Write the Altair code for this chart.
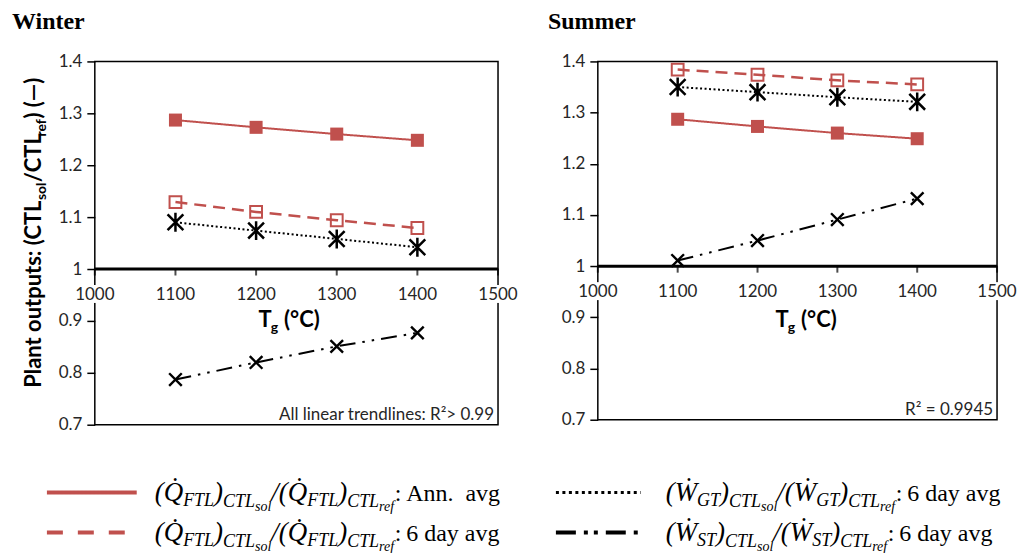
import altair as alt
import pandas as pd

# ---------------------------------------------------------------- data
temps = [1100, 1200, 1300, 1400]

winter_ftl_ann = [1.287, 1.273, 1.260, 1.248]
winter_ftl_6d = [1.129, 1.110, 1.094, 1.079]
winter_gt_6d = [1.090, 1.074, 1.058, 1.042]
winter_st_6d = [0.787, 0.820, 0.851, 0.877]

summer_ftl_ann = [1.287, 1.273, 1.260, 1.249]
summer_ftl_6d = [1.384, 1.374, 1.363, 1.355]
summer_gt_6d = [1.350, 1.340, 1.330, 1.321]
summer_st_6d = [1.011, 1.050, 1.091, 1.132]

x_ticks = [1000, 1100, 1200, 1300, 1400, 1500]
y_ticks = [0.7, 0.8, 0.9, 1.0, 1.1, 1.2, 1.3, 1.4]
x_cross = 1.0  # the T axis is drawn where the ratio equals one

RED = "#C0504D"
ASTERISK = "M-1,-1L1,1M-1,1L1,-1M0,-1.2L0,1.2"
CROSS = "M-1,-1L1,1M-1,1L1,-1"

# line / marker style of each series
STYLES = {
    "ftl_ann": dict(color=RED, dash=[1, 0], lw=2, shape="square", filled=True, size=170, sw=0),
    "ftl_6d": dict(color=RED, dash=[12, 7], lw=2.5, shape="square", filled=False, size=140, sw=2),
    "gt_6d": dict(color="black", dash=[2, 2.5], lw=2, shape=ASTERISK, filled=False, size=250, sw=2.5),
    "st_6d": dict(color="black", dash=[16, 7, 2.5, 7, 2.5, 7], lw=2, shape=CROSS, filled=False, size=160, sw=2.4),
}

# ---------------------------------------------------------------- rich text helpers
TIMES_R = {" ": .25, "\u00a0": .25, "(": .333, ")": .333, ".": .25, "/": .278, ":": .278,
           "6": .5, "A": .722, "a": .444, "d": .5, "g": .5, "n": .5, "v": .5, "y": .5}
TIMES_I = {"(": .333, ")": .333, "/": .278, "C": .667, "F": .611, "G": .722, "L": .556,
           "Q": .722, "S": .5, "T": .556, "W": .833, "e": .444, "f": .278, "l": .278,
           "o": .5, "r": .389, "s": .389, "\u0307": 0}
LATO_B = {"P": .60, "l": .26, "a": .53, "n": .58, "t": .37, " ": .2, "\u00a0": .2, "o": .58,
          "u": .58, "p": .58, "s": .44, ":": .28, "(": .33, ")": .33, "C": .66, "T": .56,
          "L": .48, "/": .38, "r": .40, "e": .54, "f": .34, "\u2014": .85, "g": .52, "\u00b0": .4}
TABLES = {"mi": TIMES_I, "rm": TIMES_R, "sb": LATO_B}
FONTS = {
    "mi": dict(font="Liberation Serif", fontStyle="italic", fontWeight="normal"),
    "rm": dict(font="Liberation Serif", fontStyle="normal", fontWeight="normal"),
    "sb": dict(font="Lato", fontStyle="normal", fontWeight="bold"),
}


def text_width(text, size, style):
    table = TABLES[style]
    return sum(table.get(ch, 0.5) for ch in text) * size


def run_rows(segments, x0, y0, rotated=False):
    """Lay out (text, size, shift, style[, extra gap]) pieces one after another."""
    rows, pos = [], 0.0
    for seg in segments:
        text, size, shift, style = seg[:4]
        pos += seg[4] if len(seg) > 4 else 0
        if rotated:
            rows.append(dict(px=x0 + shift, py=y0 - pos, txt=text, fs=size, st=style, rot=True))
        else:
            rows.append(dict(px=x0 + pos, py=y0 + shift, txt=text, fs=size, st=style, rot=False))
        pos += text_width(text, size, style)
    return rows


def text_layers(rows):
    df = pd.DataFrame(rows)
    layers = []
    for (style, rot), sub in df.groupby(["st", "rot"]):
        layers.append(
            alt.Chart(sub).mark_text(align="left", baseline="alphabetic",
                                     angle=270 if rot else 0, color="black", **FONTS[style])
            .encode(x=alt.X("px:Q", scale=None), y=alt.Y("py:Q", scale=None),
                    text="txt:N", size=alt.Size("fs:Q", scale=None))
        )
    return layers


def legend_segments(sym, sub, tail):
    M, S, SS, R = 27, 18, 14, 24
    dot = sym + "\u0307"
    return [
        ("(", M, 0, "mi"), (dot, M, 0, "mi"), (sub, S, 5, "mi"), (")", M, 0, "mi"),
        ("CTL", S, 6, "mi"), ("sol", SS, 10, "mi"),
        ("/(", M, 0, "mi"), (dot, M, 0, "mi"), (sub, S, 5, "mi"), (")", M, 0, "mi"),
        ("CTL", S, 6, "mi"), ("ref", SS, 10, "mi"),
        (":", R, 0, "rm"), (tail, R, 0, "rm", 5),
    ]


one_row = pd.DataFrame({"k": [0]})


def px_text(text, x, y, size, align="left", font="Lato", weight="normal", color="black"):
    return alt.Chart(one_row).mark_text(
        text=text, align=align, baseline="alphabetic", font=font, fontSize=size,
        fontWeight=weight, color=color,
    ).encode(x=alt.value(x), y=alt.value(y))


def px_rule(x1, x2, y, color, width, dash):
    return alt.Chart(one_row).mark_rule(color=color, strokeWidth=width, strokeDash=dash).encode(
        x=alt.value(x1), x2=alt.value(x2), y=alt.value(y))


# ---------------------------------------------------------------- panels
def panel(name, series, width, height, left, top, title_x, tg_x, note, note_y):
    frames = []
    for key, vals in series.items():
        frames.append(pd.DataFrame({"T": temps, "v": vals, "s": key}))
    df = pd.concat(frames)

    x_scale = alt.Scale(domain=[1000, 1500], nice=False)
    y_scale = alt.Scale(domain=[0.7, 1.4], nice=False, zero=False)
    x_enc = alt.X("T:Q", scale=x_scale, axis=None)
    y_enc = alt.Y("v:Q", scale=y_scale,
                  axis=alt.Axis(values=y_ticks, format=".1~f", title=None, domain=False,
                                tickSize=8, tickWidth=1.5, labelPadding=5, labelOverlap=False))

    layers = []
    # white breaks in the frame behind the end labels of the T axis
    cross_px = height * (1.4 - x_cross) / 0.7
    for xx in (0, width):
        layers.append(alt.Chart(one_row).mark_rect(color="white").encode(
            x=alt.value(xx - 3), x2=alt.value(xx + 3),
            y=alt.value(cross_px + 16), y2=alt.value(cross_px + 34)))

    # T axis crossing at ratio = 1: line, ticks and labels
    tick_df = pd.DataFrame({"T": x_ticks, "v": [x_cross] * len(x_ticks),
                            "lab": [str(t) for t in x_ticks]})
    tick_base = alt.Chart(tick_df)
    layers.append(tick_base.mark_rule(color="black", strokeWidth=3).encode(
        x=alt.X("min(T):Q", scale=x_scale, axis=None),
        x2=alt.X2("max(T):Q"), y=alt.Y("min(v):Q", scale=y_scale)))
    layers.append(tick_base.mark_tick(color="black", orient="vertical", size=7, thickness=2,
                                      yOffset=3).encode(x=x_enc, y=y_enc))
    layers.append(tick_base.mark_text(font="Lato", fontSize=17, color="#262626",
                                      baseline="alphabetic", dy=31)
                  .encode(x=x_enc, y=y_enc, text="lab:N"))

    base = alt.Chart(df)
    for key in series:
        st = STYLES[key]
        layers.append(base.transform_filter(alt.datum.s == key)
                      .mark_line(color=st["color"], strokeWidth=st["lw"], strokeDash=st["dash"])
                      .encode(x=x_enc, y=y_enc))
    for key in series:
        st = STYLES[key]
        if st["filled"]:
            opts = dict(shape=st["shape"], size=st["size"], filled=True,
                        color=st["color"], opacity=1)
        else:
            opts = dict(shape=st["shape"], size=st["size"], filled=False,
                        color=st["color"], strokeWidth=st["sw"], opacity=1)
        layers.append(base.transform_filter(alt.datum.s == key).mark_point(**opts)
                      .encode(x=x_enc, y=y_enc))

    # season heading
    layers.append(px_text(name, title_x - left, 28 - top, 24, font="Liberation Serif",
                          weight="bold"))
    # T_g axis title
    layers += text_layers(run_rows([("T", 22, 0, "sb"), ("g", 14, 5, "sb"),
                                    ("(\u00b0C)", 22, 0, "sb", 6)], tg_x - left, 326 - top))
    # trendline note
    layers.append(px_text(note, width - 4, note_y, 17, align="right", color="#262626"))
    return layers


W_LEFT, W_TOP, W_W, W_H = 93, 60, 404, 364
S_LEFT, S_TOP, S_W, S_H = 597, 60, 400, 359

winter_layers = panel(
    "Winter",
    {"ftl_ann": winter_ftl_ann, "ftl_6d": winter_ftl_6d, "gt_6d": winter_gt_6d, "st_6d": winter_st_6d},
    W_W, W_H, W_LEFT, W_TOP, 10, 257, "All linear trendlines: R\u00b2> 0.99", W_H - 5)

summer_layers = panel(
    "Summer",
    {"ftl_ann": summer_ftl_ann, "ftl_6d": summer_ftl_6d, "gt_6d": summer_gt_6d, "st_6d": summer_st_6d},
    S_W, S_H, S_LEFT, S_TOP, 547, 775, "R\u00b2 = 0.9945", S_H - 5)

# y-axis title, written bottom to top
winter_layers += text_layers(run_rows(
    [("Plant outputs: (CTL", 22, 0, "sb"), ("sol", 14, 5, "sb"), ("/CTL", 22, 0, "sb"),
     ("ref", 14, 5, "sb"), (") (\u2014)", 22, 0, "sb")],
    39 - W_LEFT, 387 - W_TOP, rotated=True))

# legend below both panels
ox, oy = W_LEFT, W_TOP
winter_layers += [
    px_rule(45 - ox, 135 - ox, 492 - oy, RED, 4, [1, 0]),
    px_rule(45 - ox, 135 - ox, 532 - oy, RED, 4, [16, 15]),
    px_rule(555 - ox, 640 - ox, 492 - oy, "black", 3, [3, 3.5]),
    px_rule(555 - ox, 640 - ox, 532 - oy, "black", 4, [20, 8, 4, 6, 4, 8]),
]
legend_rows = []
legend_rows += run_rows(legend_segments("Q", "FTL", "Ann.\u00a0 avg"), 153 - ox, 500 - oy)
legend_rows += run_rows(legend_segments("Q", "FTL", "6 day avg"), 153 - ox, 541 - oy)
legend_rows += run_rows(legend_segments("W", "GT", "6 day avg"), 665 - ox, 500 - oy)
legend_rows += run_rows(legend_segments("W", "ST", "6 day avg"), 665 - ox, 541 - oy)
winter_layers += text_layers(legend_rows)

# keeps the canvas origin at the page corner
winter_layers.append(px_rule(-W_LEFT, -W_LEFT + 1, -W_TOP + 0.5, "white", 1, [1, 0]))

winter = alt.layer(*winter_layers).properties(width=W_W, height=W_H)
summer = alt.layer(*summer_layers).properties(width=S_W, height=S_H)

chart = (
    alt.hconcat(winter, summer, spacing=S_LEFT - W_LEFT - W_W, bounds="flush")
    .properties(padding=0, background="white")
    .configure_view(stroke="black", strokeWidth=1.5)
    .configure_axis(labelFont="Lato", labelFontSize=17, labelColor="#262626",
                    tickColor="black", grid=False)
)

chart.save("out.html", embed_options={"renderer": "svg", "actions": False})
